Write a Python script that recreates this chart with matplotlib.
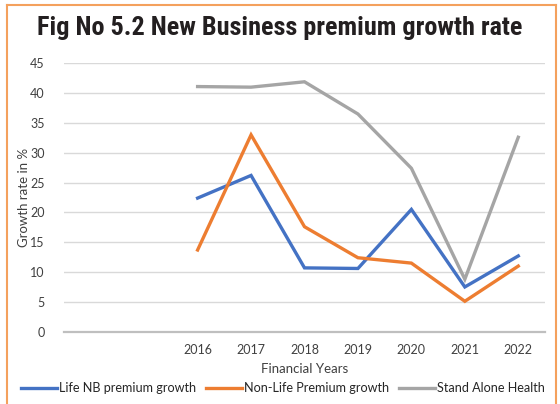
import matplotlib
matplotlib.use("Agg")
import matplotlib.pyplot as plt
from matplotlib import font_manager
from matplotlib.lines import Line2D

# Financial years (two leading empty categories on the axis)
categories = ["", "", "2016", "2017", "2018", "2019", "2020", "2021", "2022"]
life_nb = [None, None, 22.4, 26.2, 10.7, 10.6, 20.5, 7.5, 12.7]
non_life = [None, None, 13.7, 33.0, 17.6, 12.4, 11.5, 5.1, 11.0]
stand_alone_health = [None, None, 41.1, 41.0, 41.9, 36.5, 27.4, 8.8, 32.6]
series_names = ["Life NB premium growth", "Non-Life Premium growth", "Stand Alone Health"]
series_colors = ["#4472C4", "#ED7D31", "#A5A5A5"]
yticks = [0, 5, 10, 15, 20, 25, 30, 35, 40, 45]
title_text = "Fig No 5.2 New Business premium growth rate"

available = {f.name for f in font_manager.fontManager.ttflist}
body_font = "Lato" if "Lato" in available else "DejaVu Sans"
title_font = next((f for f in ["Liberation Sans Narrow", "Roboto Condensed", "DejaVu Sans"]
                   if f in available), "DejaVu Sans")

W, H = 560, 404
fig = plt.figure(figsize=(W / 100, H / 100), dpi=100)
fig.patch.set_facecolor("white")

ax = fig.add_axes([64 / W, 1 - 331.7 / H, (545 - 64) / W, (331.7 - 63.3) / H])

x = list(range(len(categories)))
for vals, name, color in zip([life_nb, non_life, stand_alone_health], series_names, series_colors):
    xs = [i for i, v in zip(x, vals) if v is not None]
    ys = [v for v in vals if v is not None]
    ax.plot(xs, ys, color=color, lw=2.4, solid_joinstyle="miter", label=name, zorder=3)

ax.set_xlim(-0.5, len(categories) - 0.5)
ax.set_ylim(0, 45)
ax.set_yticks(yticks)
ax.set_yticklabels([str(t) for t in yticks], fontfamily=body_font, fontsize=9, color="#404040")
ax.set_xticks(x)
ax.set_xticklabels(categories, fontfamily=body_font, fontsize=9, color="#404040")
ax.tick_params(axis="both", length=0)
ax.tick_params(axis="y", pad=14)
ax.tick_params(axis="x", pad=9)
ax.grid(axis="y", color="#D9D9D9", lw=1.0, zorder=0)
ax.set_axisbelow(True)
for s in ["top", "right", "left"]:
    ax.spines[s].set_visible(False)
ax.spines["bottom"].set_color("#BFBFBF")
ax.spines["bottom"].set_linewidth(1.6)

ax.set_ylabel("Growth rate in %", fontfamily=body_font, fontsize=9.5, color="#404040", labelpad=0)
ax.set_xlabel("Financial Years", fontfamily=body_font, fontsize=9.5, color="#404040", labelpad=5)

handles = [Line2D([0], [0], color=c, lw=2.4) for c in series_colors]
fig.legend(handles, series_names, loc="center", bbox_to_anchor=(283 / W, 1 - 388 / H),
           ncol=3, frameon=False, handlelength=2.85, handletextpad=0.15,
           columnspacing=0.8, prop={"family": body_font, "size": 9.1},
           labelcolor="#262626")

# Title, scaled to span the header width
title = fig.text(37 / W, 1 - 35 / H, title_text, fontfamily=title_font, fontweight="bold",
                 fontsize=20, color="#231F20", ha="left", va="baseline")
fig.canvas.draw()
w = title.get_window_extent().width
title.set_fontsize(20 * 485 / w)

# Orange frame (left, top, right edges)
frame_kw = dict(color="#F4A15D", lw=1.5, transform=fig.transFigure, clip_on=False)
fig.add_artist(Line2D([7 / W, 7 / W], [0, 1 - 5 / H], **frame_kw))
fig.add_artist(Line2D([7 / W, 556 / W], [1 - 5 / H, 1 - 5 / H], **frame_kw))
fig.add_artist(Line2D([556 / W, 556 / W], [0, 1 - 5 / H], **frame_kw))

fig.savefig("out.png", dpi=100, facecolor="white")
